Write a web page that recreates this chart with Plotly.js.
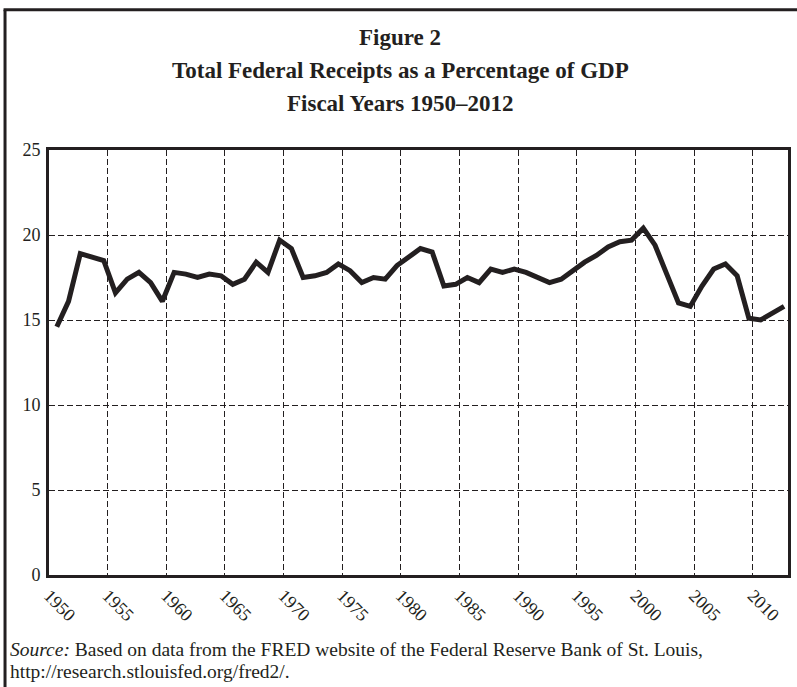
<!DOCTYPE html>
<html>
<head>
<meta charset="utf-8">
<script src="https://cdn.plot.ly/plotly-3.0.1.min.js"></script>
<style>html,body{margin:0;padding:0;background:#fff;}#chart{width:797px;height:687px;}</style>
</head>
<body>
<div id="chart"></div>
<script>
// Fiscal years 1950–2012
const years = [];
for (let y = 1950; y <= 2012; y++) years.push(y);

// Total federal receipts as % of GDP
const receipts = [
  14.6, 16.1, 18.9, 18.7, 18.5, 16.6, 17.4, 17.8, 17.2, 16.1,
  17.8, 17.7, 17.5, 17.7, 17.6, 17.1, 17.4, 18.4, 17.8, 19.7,
  19.2, 17.5, 17.6, 17.8, 18.3, 17.9, 17.2, 17.5, 17.4, 18.2,
  18.7, 19.2, 19.0, 17.0, 17.1, 17.5, 17.2, 18.0, 17.8, 18.0,
  17.8, 17.5, 17.2, 17.4, 17.9, 18.4, 18.8, 19.3, 19.6, 19.7,
  20.4, 19.4, 17.7, 16.0, 15.8, 17.0, 18.0, 18.3, 17.6, 15.1,
  15.0, 15.4, 15.8
];

const xTickLabels = ['1950','1955','1960','1965','1970','1975','1980','1985','1990','1995','2000','2005','2010'];
const yTickVals = [0, 5, 10, 15, 20, 25];

const titleLines = [
  'Figure 2',
  'Total Federal Receipts as a Percentage of GDP',
  'Fiscal Years 1950–2012'
];
const sourceLines = [
  '<i>Source:</i> Based on data from the FRED website of the Federal Reserve Bank of St. Louis,',
  'http://research.stlouisfed.org/fred2/.'
];

// fiscal-year observation dates
const xDates = years.map(y => y + '-09-01');

const serif = 'Liberation Serif, Times New Roman, serif';
const ink = '#231f20';

const trace = {
  x: xDates,
  y: receipts,
  type: 'scatter',
  mode: 'lines',
  line: { color: ink, width: 5 },
  hoverinfo: 'skip'
};

const titleY = [1.2644, 1.1868, 1.1093];
const sourceY = [-0.176, -0.228];

const annotations = [];
titleLines.forEach((t, i) => annotations.push({
  text: '<b>' + t + '</b>', xref: 'paper', yref: 'paper', x: 0.475, y: titleY[i],
  xanchor: 'center', yanchor: 'middle', showarrow: false,
  font: { family: serif, size: 23, color: ink }
}));
sourceLines.forEach((t, i) => annotations.push({
  text: t, xref: 'paper', yref: 'paper', x: -0.056, y: sourceY[i],
  xanchor: 'left', yanchor: 'middle', showarrow: false,
  font: { family: serif, size: 19.5, color: ink }
}));

const layout = {
  width: 797, height: 687,
  margin: { l: 49, r: 9, t: 150, b: 112 },
  paper_bgcolor: '#fff', plot_bgcolor: '#fff',
  showlegend: false,
  font: { family: serif, color: ink },
  xaxis: {
    type: 'date',
    range: ['1950-01-01', '2013-01-01'],
    tickmode: 'array',
    tickvals: xTickLabels.map(t => t + '-01-01'),
    ticktext: xTickLabels,
    tickangle: 45,
    ticks: '',
    showgrid: true, gridcolor: ink, gridwidth: 1, griddash: '6px,3px',
    showline: true, linecolor: ink, linewidth: 3, mirror: true,
    zeroline: false,
    tickfont: { family: serif, size: 18, color: ink }
  },
  yaxis: {
    range: [0, 25],
    tickmode: 'array',
    tickvals: yTickVals,
    ticks: '',
    showgrid: true, gridcolor: ink, gridwidth: 1, griddash: '6px,3px',
    showline: true, linecolor: ink, linewidth: 3, mirror: true,
    zeroline: false,
    ticklabelstandoff: 2,
    tickfont: { family: serif, size: 18, color: ink }
  },
  annotations: annotations,
  shapes: [
    { type: 'line', xref: 'paper', yref: 'paper', x0: -0.0595, x1: -0.0595, y0: 1.33, y1: -0.27, line: { color: ink, width: 3 } },
    { type: 'line', xref: 'paper', yref: 'paper', x0: -0.0615, x1: 1.02, y0: 1.33, y1: 1.33, line: { color: ink, width: 3 } }
  ]
};

Plotly.newPlot('chart', [trace], layout, { displayModeBar: false, staticPlot: true });
</script>
</body>
</html>
